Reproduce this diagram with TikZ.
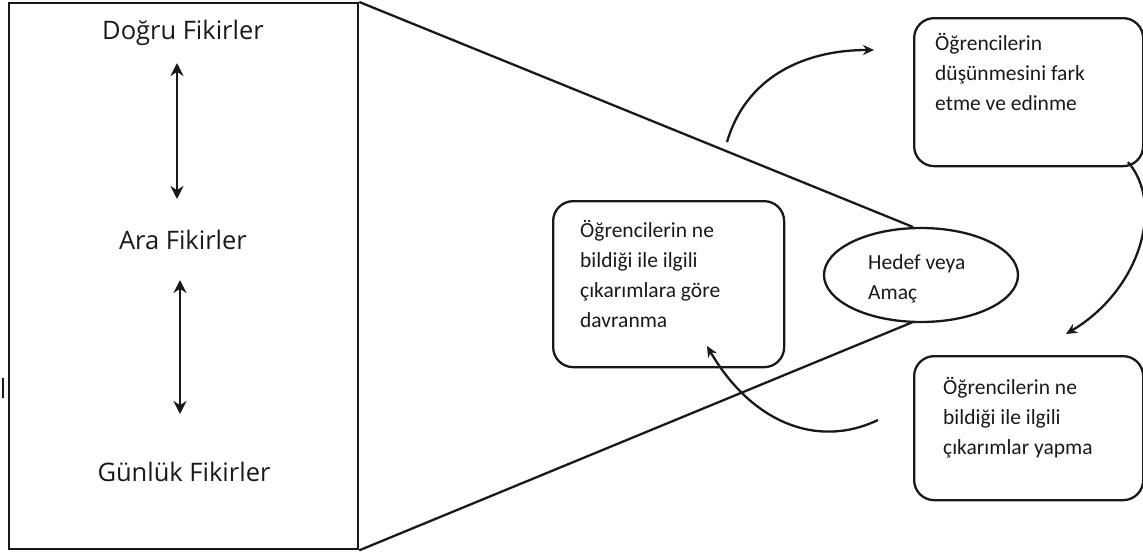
\documentclass[tikz,border=0pt]{standalone}
\usepackage{fontspec}
\setmainfont{Carlito}
\newfontfamily\leftfont{Open Sans}
\usetikzlibrary{arrows.meta,shapes.geometric}
\tikzset{
  ln/.style={line width=2.3pt, draw=black!90},
  rbox/.style={ln, rounded corners=20pt, inner sep=0pt, anchor=north west},
  boxtext/.style={anchor=north west, inner sep=0pt, align=left, font=\fontsize{21.5}{30}\selectfont, text=black!90},
  bigtext/.style={inner sep=0pt, font=\leftfont\fontsize{25.5}{30}\selectfont, text=black!90},
  arr/.style={ln, -{Stealth[length=11pt,width=10pt]}},
  darr/.style={ln, {Stealth[length=13pt,width=13pt]}-{Stealth[length=13pt,width=13pt]}}
}
\begin{document}
\begin{tikzpicture}[x=1pt,y=-1pt]
\useasboundingbox (0,0) rectangle (1143,554);
% left box
\node[ln, rectangle, inner sep=0pt, anchor=north west, minimum width=349pt, minimum height=546pt] (L) at (8,2) {};
\draw[ln] (3,378) -- (3,398);
\node[bigtext] (d) at (183,33) {Doğru Fikirler};
\node[bigtext] (a) at (183,240) {Ara Fikirler};
\node[bigtext] (g) at (184,472) {Günlük Fikirler};
\coordinate (a1t) at (177,63); \coordinate (a1b) at (177,199);
\coordinate (a2t) at (180,280); \coordinate (a2b) at (180,414);
\draw[darr] (a1t) -- (a1b);
\draw[darr] (a2t) -- (a2b);
% ellipse
\node[ln, ellipse, inner sep=0pt, minimum width=194pt, minimum height=94pt] (E) at (921,275) {};
\node[boxtext] (et) at (868,254) {Hedef veya\\Amaç};
% funnel lines
\coordinate (et1) at (913,227);
\coordinate (eb1) at (913,322);
\draw[ln] (L.north east) -- (et1);
\draw[ln] (L.south east) -- (eb1);
% boxes
\node[rbox, minimum width=231pt, minimum height=166pt] (B1) at (552,200) {};
\node[boxtext] (t1) at (580,220) {Öğrencilerin ne\\bildiği ile ilgili\\çıkarımlara göre\\davranma};
\node[rbox, minimum width=229pt, minimum height=148pt] (B2) at (913,17) {};
\node[boxtext] (t2) at (935,33) {Öğrencilerin\\düşünmesini fark\\etme ve edinme};
\node[rbox, minimum width=229pt, minimum height=144pt] (B3) at (913,355) {};
\node[boxtext] (t3) at (943,377) {Öğrencilerin ne\\bildiği ile ilgili\\çıkarımlar yapma};
% curved arrows
\coordinate (c1s) at (727,142); \coordinate (c1e) at (874,50);
\draw[arr] (c1s) .. controls (745,80) and (800,50) .. (c1e);
\coordinate (c2s) at (1128,162); \coordinate (c2e) at (1066,334);
\draw[arr] (c2s) .. controls (1165,205) and (1140,290) .. (c2e);
\coordinate (c3s) at (878,420); \coordinate (c3e) at (707,346);
\draw[arr] (c3s) .. controls (815,450) and (750,420) .. (c3e);
\end{tikzpicture}
\end{document}
